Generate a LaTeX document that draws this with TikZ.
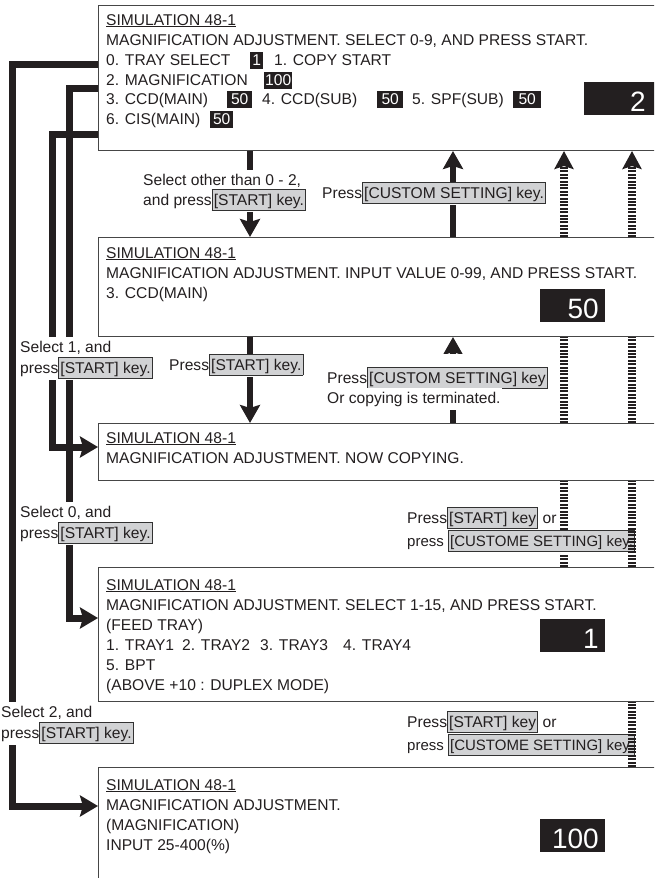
\documentclass[tikz,border=0pt]{standalone}
\usepackage{fontspec}
\setmainfont{Liberation Sans}
\usetikzlibrary{arrows.meta}
\definecolor{ink}{RGB}{35,31,32}
\definecolor{frame}{RGB}{70,70,70}
\definecolor{keyfill}{RGB}{209,210,212}
\definecolor{keyline}{RGB}{50,50,50}
% grey framed key name, e.g. [START] key.
\newcommand\keybox[1]{{\setlength{\fboxsep}{0pt}\setlength{\fboxrule}{0.8pt}\fcolorbox{keyline}{keyfill}{\rule[-5pt]{0pt}{20.5pt}\kern1.3pt#1\kern1.3pt}}}
\begin{document}
\begin{tikzpicture}[x=1pt,y=-1pt,
  font=\fontsize{15.6pt}{18pt}\selectfont, text=ink,
  screen/.style={draw=frame, line width=1pt, fill=white, anchor=north west, inner sep=0pt},
  txt/.style={anchor=base west, inner sep=0pt},
  val/.style={anchor=base west, fill=ink, text=white, inner xsep=1pt, inner ysep=1pt, text height=12pt, text depth=2.5pt},
  bigval/.style={fill=ink, anchor=north west, inner sep=0pt},
  bignum/.style={anchor=base east, inner sep=0pt, text=white, font=\fontsize{28pt}{30pt}\selectfont},
  lbl/.style={anchor=base west, fill=white, inner xsep=1pt, inner ysep=3pt, text height=12pt, text depth=4pt},
  narrow/.style={font=\fontsize{15pt}{18pt}\selectfont},
  flow/.style={draw=ink, line width=6.5pt, -{Stealth[length=18pt,width=20pt,inset=3pt]}},
  branch/.style={draw=ink, line width=7pt, line join=miter, -{Stealth[length=18pt,width=21pt,inset=3pt]}},
  back/.style={draw=ink, line width=8pt, dash pattern=on 2pt off 1.4pt},
  backtip/.style={back, -{Stealth[length=18pt,width=19pt,inset=3pt]}},
]
\useasboundingbox (0,0) rectangle (654,878);
\clip (0,0) rectangle (654,878);

% screens
\node[screen, minimum width=570pt, minimum height=145pt] (b1) at (98,5) {};
\node[screen, minimum width=570pt, minimum height=99pt] (b2) at (98,237) {};
\node[screen, minimum width=570pt, minimum height=57pt] (b3) at (98,423) {};
\node[screen, minimum width=570pt, minimum height=134pt] (b4) at (98,567) {};
\node[screen, minimum width=570pt, minimum height=140pt] (b5) at (98,767) {};

% screen 1: item menu
\node[txt] (s1a) at (106,25) {\underline{SIMULATION 48-1}};
\node[txt] (s1b) at (106,45) {MAGNIFICATION ADJUSTMENT. SELECT 0-9, AND PRESS START.};
\node[txt] (s1c) at (106,65) {0. TRAY SELECT};
\node[val, minimum width=13pt] (v1c) at (250,65) {1};
\node[txt] (s1d) at (274,65) {1. COPY START};
\node[txt] (s1e) at (106,85) {2. MAGNIFICATION};
\node[val, minimum width=28pt] (v1e) at (264,85) {100};
\node[txt] (s1f) at (106,104) {3. CCD(MAIN)};
\node[val, minimum width=25pt] (v1f) at (227,104) {50};
\node[txt] (s1g) at (262,104) {4. CCD(SUB)};
\node[val, minimum width=26pt] (v1g) at (377,104) {50};
\node[txt] (s1h) at (412,104) {5. SPF(SUB)};
\node[val, minimum width=28pt] (v1h) at (513,104) {50};
\node[txt] (s1i) at (106,124) {6. CIS(MAIN)};
\node[val, minimum width=23pt] (v1i) at (210,124) {50};
\node[bigval, minimum width=80pt, minimum height=33pt] (v1) at (584,82) {};
\node[bignum] (n1) at (646,111) {2};

% screen 2: value input
\node[txt] (s2a) at (106,258) {\underline{SIMULATION 48-1}};
\node[txt] (s2b) at (106,278) {MAGNIFICATION ADJUSTMENT. INPUT VALUE 0-99, AND PRESS START.};
\node[txt] (s2c) at (106,298) {3. CCD(MAIN)};
\node[bigval, minimum width=65pt, minimum height=33pt] (v2) at (540,289) {};
\node[bignum] (n2) at (599,318) {50};

% screen 3: copying
\node[txt] (s3a) at (106,443) {\underline{SIMULATION 48-1}};
\node[txt] (s3b) at (106,463) {MAGNIFICATION ADJUSTMENT. NOW COPYING.};

% screen 4: feed tray
\node[txt] (s4a) at (106,590) {\underline{SIMULATION 48-1}};
\node[txt] (s4b) at (106,610) {MAGNIFICATION ADJUSTMENT. SELECT 1-15, AND PRESS START.};
\node[txt] (s4c) at (106,630) {(FEED TRAY)};
\node[txt] (s4d) at (106,650) {\makebox[76pt][l]{1. TRAY1}\makebox[78pt][l]{2. TRAY2}\makebox[83pt][l]{3. TRAY3}4. TRAY4};
\node[txt] (s4e) at (106,670) {5. BPT};
\node[txt] (s4f) at (106,690) {(ABOVE +10 : DUPLEX MODE)};
\node[bigval, minimum width=65pt, minimum height=33pt] (v4) at (540,619) {};
\node[bignum] (n4) at (599,648) {1};

% screen 5: magnification
\node[txt] (s5a) at (106,790) {\underline{SIMULATION 48-1}};
\node[txt] (s5b) at (106,810) {MAGNIFICATION ADJUSTMENT.};
\node[txt] (s5c) at (106,830) {(MAGNIFICATION)};
\node[txt] (s5d) at (106,850) {INPUT 25-400(\%)};
\node[bigval, minimum width=65pt, minimum height=33pt] (v5) at (540,819) {};
\node[bignum] (n5) at (599,848) {100};

% columns and rows of the connectors
\coordinate (xmain) at (250,0);
\coordinate (xback) at (453,0);
\coordinate (xr1) at (564,0);
\coordinate (xr2) at (632,0);
\coordinate (c2) at (12,0);
\coordinate (c1) at (52,0);
\coordinate (c0) at (69,0);
\coordinate (r2) at (0,64);
\coordinate (r0) at (0,88);
\coordinate (r1) at (0,134);
\coordinate (t1) at (0,447);
\coordinate (t0) at (0,618);
\coordinate (t2) at (0,806);

% branches from the item menu
\draw[branch] (b1.west |- r2) -- (c2 |- r2) -- (c2 |- t2) -- (b5.west |- t2);
\draw[branch] (b1.west |- r0) -- (c0 |- r0) -- (c0 |- t0) -- (b4.west |- t0);
\draw[branch] (b1.west |- r1) -- (c1 |- r1) -- (c1 |- t1) -- (b3.west |- t1);

% main flow
\draw[flow] (b1.south -| xmain) -- (b2.north -| xmain);
\draw[flow] (b2.north -| xback) -- (b1.south -| xback);
\draw[flow] (b2.south -| xmain) -- (b3.north -| xmain);
\draw[flow] (b3.north -| xback) -- (b2.south -| xback);

% return path from the copying screen
\draw[backtip] (b2.north -| xr1) -- (b1.south -| xr1);
\draw[back] (b3.north -| xr1) -- (b2.south -| xr1);
\draw[back] (b4.north -| xr1) -- (b3.south -| xr1);

% labels
\node[lbl] (la1) at (142,185) {Select other than 0 - 2,};
\node[lbl] (la2) at (142,205) {and press\keybox{[START] key.}};
\node[lbl] (lb1) at (321,198) {Press\keybox{[CUSTOM SETTING] key.}};
\node[lbl] (lc1) at (19,352) {Select 1, and};
\node[lbl] (lc2) at (19,373) {press\keybox{[START] key.}};
\node[lbl] (ld1) at (168,370) {Press\keybox{[START] key.}};
\node[lbl, text height=26pt] (le1) at (326,383) {Press\keybox{[CUSTOM SETTING] key}};
\node[lbl] (le2) at (326,403) {Or copying is terminated.};
\node[lbl] (lf1) at (19,517) {Select 0, and};
\node[lbl] (lf2) at (19,538) {press\keybox{[START] key.}};
\node[lbl] (lg1) at (406,523) {Press\keybox{[START] key} or};
\node[lbl, narrow] (lg2) at (406,546) {press \keybox{[CUSTOME SETTING] key.}};
\node[lbl] (lh1) at (0,717) {Select 2, and};
\node[lbl] (lh2) at (0,738) {press\keybox{[START] key.}};
\node[lbl] (li1) at (406,727) {Press\keybox{[START] key} or};
\node[lbl, narrow] (li2) at (406,750) {press \keybox{[CUSTOME SETTING] key.}};

% return path from the feed tray and magnification screens
\draw[backtip] (b2.north -| xr2) -- (b1.south -| xr2);
\draw[back] (b3.north -| xr2) -- (b2.south -| xr2);
\draw[back] (b4.north -| xr2) -- (b3.south -| xr2);
\draw[back] (b5.north -| xr2) -- (b4.south -| xr2);
\end{tikzpicture}
\end{document}
